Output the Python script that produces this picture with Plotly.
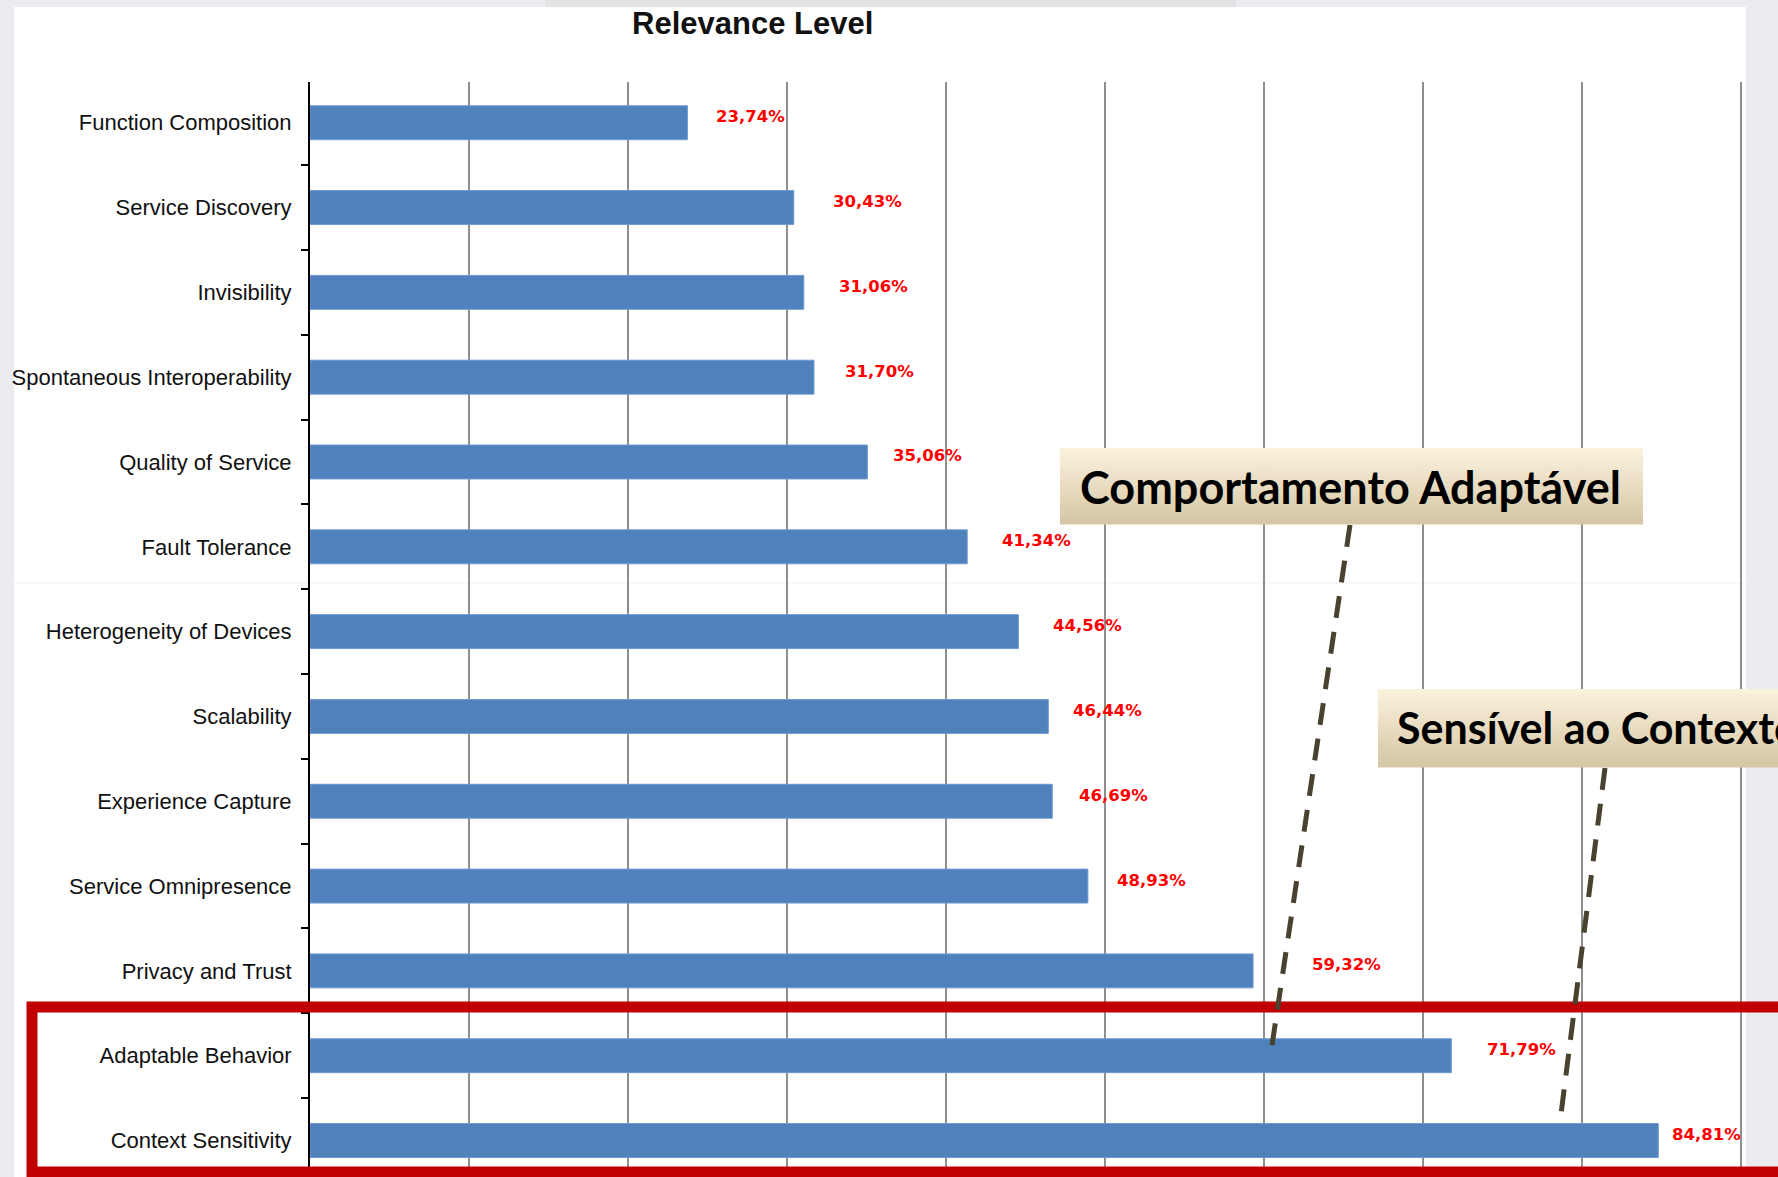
import plotly.graph_objects as go

# ---------------- data ----------------
categories = [
    "Function Composition", "Service Discovery", "Invisibility",
    "Spontaneous Interoperability", "Quality of Service", "Fault Tolerance",
    "Heterogeneity of Devices", "Scalability", "Experience Capture",
    "Service Omnipresence", "Privacy and Trust", "Adaptable Behavior",
    "Context Sensitivity",
]
values = [23.74, 30.43, 31.06, 31.70, 35.06, 41.34, 44.56, 46.44, 46.69,
          48.93, 59.32, 71.79, 84.81]
value_labels = [f"{v:.2f}".replace(".", ",") + "%" for v in values]
title_text = "Relevance Level"
callout_1 = "Comportamento Adaptável"
callout_2 = "Sensível ao Contexto"

# gap (pixels) between each bar end and its value label, as placed in the original
label_gap_px = [29, 39, 35, 31, 26, 35, 35, 25, 27, 29, 59, 36, 14]

# ---------------- geometry ----------------
W_PAGE, H_PAGE = 1778, 1177
ML, MR, MT, MB = 310, 34, 82, 0
PW = W_PAGE - ML - MR
PH = H_PAGE - MT - MB
X_MAX = 90.2
Y_RANGE = [12.43, -0.48]


def px(x):
    return (x - ML) / PW


def py(y):
    return 1 - (y - MT) / PH


fig = go.Figure()
fig.add_trace(go.Bar(
    y=categories, x=values, orientation="h", width=0.4,
    marker=dict(color="#4F81BD", line=dict(color="#6F9AD0", width=1)),
    hoverinfo="x+y",
))

shapes = []
# grey page background + white panel
shapes.append(dict(type="rect", xref="paper", yref="paper", layer="below",
                   x0=px(14), x1=px(1746), y0=py(1190), y1=py(7),
                   fillcolor="white", line=dict(width=0)))
shapes.append(dict(type="rect", xref="paper", yref="paper", layer="below",
                   x0=px(545), x1=px(1236), y0=py(7), y1=py(0),
                   fillcolor="#E3E3E6", line=dict(width=0)))
shapes.append(dict(type="line", xref="paper", yref="paper", layer="below",
                   x0=px(14), x1=px(1746), y0=py(583), y1=py(583),
                   line=dict(color="#F1F1F1", width=1)))

# red highlight frame
shapes.append(dict(type="rect", xref="paper", yref="paper", layer="above",
                   x0=px(32), x1=px(1830), y0=py(1172), y1=py(1007),
                   line=dict(color="#C00000", width=11), fillcolor="rgba(0,0,0,0)"))


def gradient_box(x0, x1, y0, y1, n=14):
    top = (251, 242, 220)
    bot = (214, 199, 166)
    h = (y1 - y0) / n
    for i in range(n):
        t = i / (n - 1)
        c = tuple(int(top[k] + (bot[k] - top[k]) * t) for k in range(3))
        shapes.append(dict(type="rect", xref="paper", yref="paper", layer="above",
                           x0=px(x0), x1=px(x1),
                           y0=py(y0 + (i + 1) * h + 0.5), y1=py(y0 + i * h),
                           fillcolor="rgb(%d,%d,%d)" % c, line=dict(width=0)))


# dashed leader lines
for (x0, y0, x1, y1) in [(1350, 525, 1271, 1052), (1605, 768, 1560, 1122)]:
    shapes.append(dict(type="line", xref="paper", yref="paper", layer="above",
                       x0=px(x0), y0=py(y0), x1=px(x1), y1=py(y1),
                       line=dict(color="#48422E", width=5, dash="22px,14px")))

gradient_box(1060, 1643, 448, 524)
gradient_box(1378, 1830, 689, 767)

annotations = []
annotations.append(dict(text="<b>" + title_text + "</b>", xref="paper", yref="paper",
                        x=px(752), y=py(23), xanchor="center", yanchor="middle",
                        showarrow=False,
                        font=dict(family="Liberation Sans, Arial", size=31, color="#111111")))
annotations.append(dict(text="<b>" + callout_1 + "</b>", xref="paper", yref="paper",
                        x=px(1350), y=py(487), xanchor="center", yanchor="middle",
                        showarrow=False,
                        font=dict(family="Lato", size=45, color="#000000")))
annotations.append(dict(text="<b>" + callout_2 + "</b>", xref="paper", yref="paper",
                        x=px(1395), y=py(728), xanchor="left", yanchor="middle",
                        showarrow=False,
                        font=dict(family="Lato", size=43, color="#000000")))

for cat, v, lab, gap in zip(categories, values, value_labels, label_gap_px):
    annotations.append(dict(text="<b>" + lab + "</b>", x=v, y=cat, xref="x", yref="y",
                            xanchor="left", yanchor="middle", xshift=gap - 2, yshift=6,
                            showarrow=False,
                            font=dict(family="DejaVu Sans", size=16.5, color="#FF0000")))

fig.update_layout(
    width=W_PAGE, height=H_PAGE,
    margin=dict(l=ML, r=MR, t=MT, b=MB, pad=0),
    paper_bgcolor="#EBECF0", plot_bgcolor="white",
    showlegend=False, bargap=0.6,
    shapes=shapes, annotations=annotations,
    font=dict(family="Liberation Sans, Arial", color="#111111"),
)
fig.update_xaxes(range=[0, X_MAX], dtick=10, showticklabels=False, showgrid=True,
                 gridcolor="#8E8E8E", gridwidth=1.5, zeroline=False, showline=False,
                 ticks="")
fig.update_yaxes(type="category", categoryorder="array", categoryarray=categories,
                 range=Y_RANGE, showgrid=False, zeroline=False,
                 showline=True, linecolor="#000000", linewidth=2,
                 ticks="outside", tickson="boundaries", ticklen=7, tickcolor="#000000",
                 tickwidth=1.5, ticklabelstandoff=12,
                 tickfont=dict(family="Liberation Sans, Arial", size=22, color="#111111"))

fig.write_html("out.html")
